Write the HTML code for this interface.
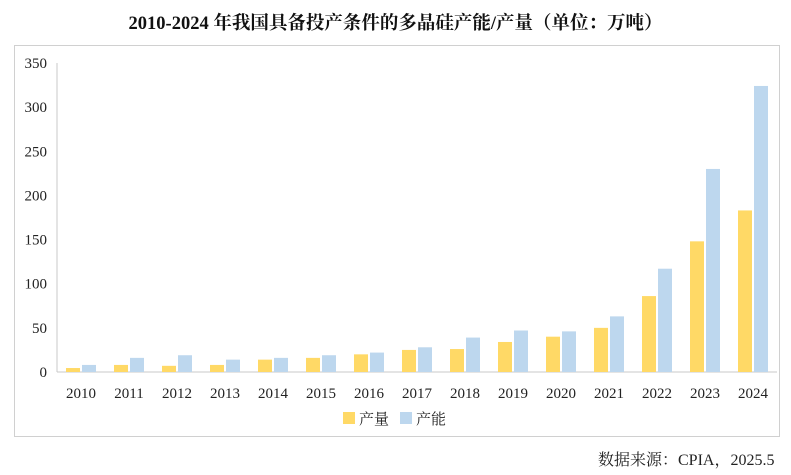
<!DOCTYPE html>
<html><head><meta charset="utf-8">
<style>
body{margin:0;background:#fff;font-family:"Liberation Serif","Noto Serif CJK SC",serif;}
#wrap{position:relative;width:791px;height:475px;}
#title{position:absolute;left:0;top:9px;width:791px;text-align:center;font-size:18.5px;font-weight:bold;color:#111;}
#src{position:absolute;left:598px;top:447px;font-size:16px;color:#222;}
</style></head><body>
<div id="wrap">
<div id="title">2010-2024 年我国具备投产条件的多晶硅产能/产量（单位：万吨）</div>
<svg id="svg" width="791" height="475" style="position:absolute;left:0;top:0"></svg>
<div id="src">数据来源：CPIA，2025.5</div>
</div>
<script>
const categories=["2010","2011","2012","2013","2014","2015","2016","2017","2018","2019","2020","2021","2022","2023","2024"];
const production=[4.5,8,7,8,14,16,20,25,26,34,40,50,86,148,183];
const capacity=[8,16,19,14,16,19,22,28,39,47,46,63,117,230,324];
const yTicks=[0,50,100,150,200,250,300,350];
const svg=document.getElementById('svg');
const NS='http://www.w3.org/2000/svg';
const x0=57,x1=777,y0=372,yTop=63,ymax=350;
const band=(x1-x0)/categories.length;
const y=v=>y0-(v/ymax)*(y0-yTop);
const xc=i=>x0+band*(i+0.5);
function mk(t,a){const e=document.createElementNS(NS,t);for(const k in a)e.setAttribute(k,a[k]);svg.appendChild(e);return e;}
const border=mk('rect',{x:14.5,y:45.5,width:765,height:391,fill:'none',stroke:'#d0d0d0'});


const yaxis=mk('line',{x1:x0,x2:x0,y1:yTop,y2:y0,stroke:'#c8c8c8'});


const xaxis=mk('line',{x1:x0,x2:x1,y1:y0,y2:y0,stroke:'#c8c8c8'});


yTicks.forEach(v=>{
 const t=mk('text',{x:x0-10,y:y(v)+5,'text-anchor':'end','font-size':15,fill:'#222','font-family':'Liberation Serif, serif'});
 t.textContent=v;
 
 
});
categories.forEach((c,i)=>{
 const cx=xc(i);
 const b1=mk('rect',{x:cx-15,y:y(production[i]),width:14,height:y0-y(production[i]),fill:'#ffd966'});
 
 
 const b2=mk('rect',{x:cx+1,y:y(capacity[i]),width:14,height:y0-y(capacity[i]),fill:'#bdd7ee'});
 
 
 const t=mk('text',{x:cx,y:398,'text-anchor':'middle','font-size':15,fill:'#222','font-family':'Liberation Serif, serif'});
 t.textContent=c;
 
 
});
[['产量','#ffd966',343],['产能','#bdd7ee',400]].forEach(([n,col,lx])=>{
 const r=mk('rect',{x:lx,y:412,width:12,height:12,fill:col});
 
 
 const t=mk('text',{x:lx+16,y:424,'font-size':15,fill:'#222','font-family':'Liberation Serif, Noto Serif CJK SC, serif'});
 t.textContent=n;
 
 
});
</script>
</body></html>
